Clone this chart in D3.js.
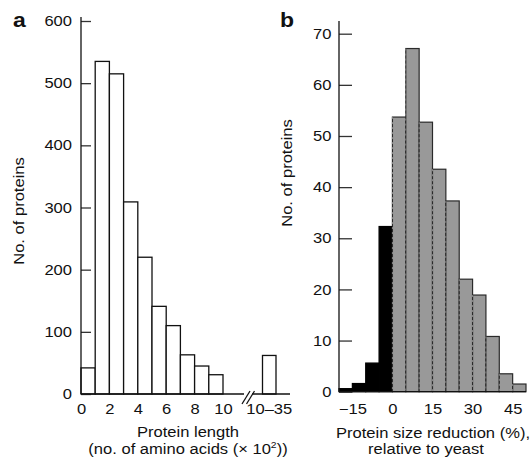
<!DOCTYPE html>
<html>
<head>
<meta charset="utf-8">
<script src="https://cdn.jsdelivr.net/npm/d3@7"></script>
<style>
  body { margin: 0; background: #fff; }
  text { font-family: "Liberation Sans", Arial, sans-serif; fill: #111; }
</style>
</head>
<body>
<div id="chart"></div>
<script>
// panel a: protein length histogram (bins of 100 aa)
var lenBinStart = [0, 1, 2, 3, 4, 5, 6, 7, 8, 9];
var lenCounts = [42, 535, 515, 309, 220, 141, 110, 63, 45, 31];
var longLabel = "10–35";
var longCount = 62;
var aYTicks = [0, 100, 200, 300, 400, 500, 600];
var aXTicks = [0, 2, 4, 6, 8, 10];

// panel b: protein size reduction relative to yeast (5% bins)
var sizeBinStart = [-20, -15, -10, -5, 0, 5, 10, 15, 20, 25, 30, 35, 40, 45];
var sizeCounts = [0.6, 1.6, 5.6, 32.3, 53.7, 67.1, 52.7, 43.5, 37.3, 22, 18.9, 10.8, 3.5, 1.5];
var bYTicks = [0, 10, 20, 30, 40, 50, 60, 70];
var bXTicks = [-15, 0, 15, 30, 45];

var SX = 1.15;   // text in the figure is set wide
var FS = 14.4;

var svg = d3.select("#chart")
    .append("svg")
    .attr("width", 532)
    .attr("height", 460);

// helper for wide text
function label(g, x, y, txt, anchor, rot) {
    return g.append("text")
        .attr("transform", `translate(${x},${y})` + (rot ? ` rotate(${rot})` : "") + ` scale(${SX},1)`)
        .attr("text-anchor", anchor || "middle")
        .style("font-size", FS + "px")
        .text(txt);
}

function styleAxis(g, left, pad) {
    g.select(".domain").remove();
    g.selectAll(".tick line").attr("stroke", "#333").attr("stroke-width", 1.3);
    g.selectAll(".tick text")
        .style("font-size", FS + "px")
        .style("font-family", "Liberation Sans, Arial, sans-serif")
        .attr("fill", "#111")
        .attr("transform", `scale(${SX},1)`);
    if (left) g.selectAll(".tick text").attr("x", -pad / SX);
}

// ---------- panel a ----------
var ga = svg.append("g");
var xa = d3.scaleLinear().domain([0, 10]).range([81, 223]);
var xaLong = d3.scaleBand().domain([longLabel]).range([262.5, 276]);
var ya = d3.scaleLinear().domain([0, 600]).range([394, 21]);

ga.selectAll("rect.len")
    .data(lenBinStart)
    .enter()
    .append("rect")
    .attr("class", "len")
    .attr("x", d => xa(d))
    .attr("width", d => xa(d + 1) - xa(d))
    .attr("y", (d, i) => ya(lenCounts[i]))
    .attr("height", (d, i) => ya(0) - ya(lenCounts[i]))
    .attr("fill", "#fff")
    .attr("stroke", "#111")
    .attr("stroke-width", 1.3);

ga.append("rect")
    .attr("x", xaLong(longLabel))
    .attr("width", xaLong.bandwidth())
    .attr("y", ya(longCount))
    .attr("height", ya(0) - ya(longCount))
    .attr("fill", "#fff")
    .attr("stroke", "#111")
    .attr("stroke-width", 1.3);

var ayAxis = ga.append("g")
    .attr("transform", `translate(${xa(0)},0)`)
    .call(d3.axisLeft(ya).tickValues(aYTicks).tickSizeInner(-10).tickSizeOuter(0));
styleAxis(ayAxis, true, 9);

var axAxis = ga.append("g")
    .attr("transform", `translate(0,${ya(0)})`)
    .call(d3.axisBottom(xa).tickValues(aXTicks).tickSize(0).tickPadding(10));
styleAxis(axAxis, false);

var axLong = ga.append("g")
    .attr("transform", `translate(0,${ya(0)})`)
    .call(d3.axisBottom(xaLong).tickSize(0).tickPadding(10));
styleAxis(axLong, false);

// axis lines with break
var brk = xa(10) + 21;
ga.append("line").attr("x1", xa(0)).attr("x2", xa(0)).attr("y1", 17).attr("y2", ya(0))
    .attr("stroke", "#111").attr("stroke-width", 1.3);
ga.append("line").attr("x1", xa(0)).attr("x2", brk).attr("y1", ya(0)).attr("y2", ya(0))
    .attr("stroke", "#111").attr("stroke-width", 1.3);
ga.append("line").attr("x1", brk + 8).attr("x2", 290).attr("y1", ya(0)).attr("y2", ya(0))
    .attr("stroke", "#111").attr("stroke-width", 1.3);
[0, 4.5].forEach(function(o) {
    ga.append("line")
        .attr("x1", brk - 2 + o).attr("y1", ya(0) + 10)
        .attr("x2", brk + 6 + o).attr("y2", ya(0) - 3)
        .attr("stroke", "#111").attr("stroke-width", 1.3);
});

label(ga, 188, 437, "Protein length");
var t2 = label(ga, 188, 453.5, "");
t2.append("tspan").text("(no. of amino acids (× 10");
t2.append("tspan").text("2").style("font-size", "9px").attr("dy", -6);
t2.append("tspan").text("))").attr("dy", 6);

label(ga, 23.5, 211, "No. of proteins", "middle", -90);
label(ga, 13, 27, "a", "start").style("font-weight", "bold").style("font-size", "20px");

// ---------- panel b ----------
var gb = svg.append("g");
var xb = d3.scaleLinear().domain([-20, 50]).range([339, 526]);
var yb = d3.scaleLinear().domain([0, 70]).range([391.7, 33.7]);

gb.selectAll("rect.size")
    .data(sizeBinStart)
    .enter()
    .append("rect")
    .attr("class", "size")
    .attr("x", d => xb(d))
    .attr("width", d => xb(d + 5) - xb(d))
    .attr("y", (d, i) => yb(sizeCounts[i]))
    .attr("height", (d, i) => yb(0) - yb(sizeCounts[i]))
    .attr("fill", d => d < 0 ? "#000" : "#999")
    .attr("stroke", d => d < 0 ? "#000" : "#2a2a2a")
    .attr("stroke-width", 1.2);

// dashed look on the left edges of the grey bars
gb.selectAll("line.edge")
    .data(sizeBinStart.filter(d => d >= 0))
    .enter()
    .append("line")
    .attr("class", "edge")
    .attr("x1", d => xb(d))
    .attr("x2", d => xb(d))
    .attr("y1", d => yb(sizeCounts[sizeBinStart.indexOf(d)]))
    .attr("y2", yb(0))
    .attr("stroke", "#888")
    .attr("stroke-width", 1)
    .attr("stroke-dasharray", "2,3");

var byAxis = gb.append("g")
    .attr("transform", `translate(${xb(-20)},0)`)
    .call(d3.axisLeft(yb).tickValues(bYTicks).tickSizeInner(-13).tickSizeOuter(0));
styleAxis(byAxis, true, 7.5);

var bxAxis = gb.append("g")
    .attr("transform", `translate(0,${yb(0)})`)
    .call(d3.axisBottom(xb).tickValues(bXTicks).tickSize(0).tickPadding(12.5));
styleAxis(bxAxis, false);

gb.append("line").attr("x1", xb(-20)).attr("x2", xb(-20)).attr("y1", 21).attr("y2", yb(0))
    .attr("stroke", "#111").attr("stroke-width", 1.3);
gb.append("line").attr("x1", xb(-20)).attr("x2", xb(50)).attr("y1", yb(0)).attr("y2", yb(0))
    .attr("stroke", "#111").attr("stroke-width", 1.3);

label(gb, 433, 438, "Protein size reduction (%),");
label(gb, 426, 453.5, "relative to yeast");
label(gb, 291.5, 173, "No. of proteins", "middle", -90);
label(gb, 280, 27, "b", "start").style("font-weight", "bold").style("font-size", "20px");
</script>
</body>
</html>
